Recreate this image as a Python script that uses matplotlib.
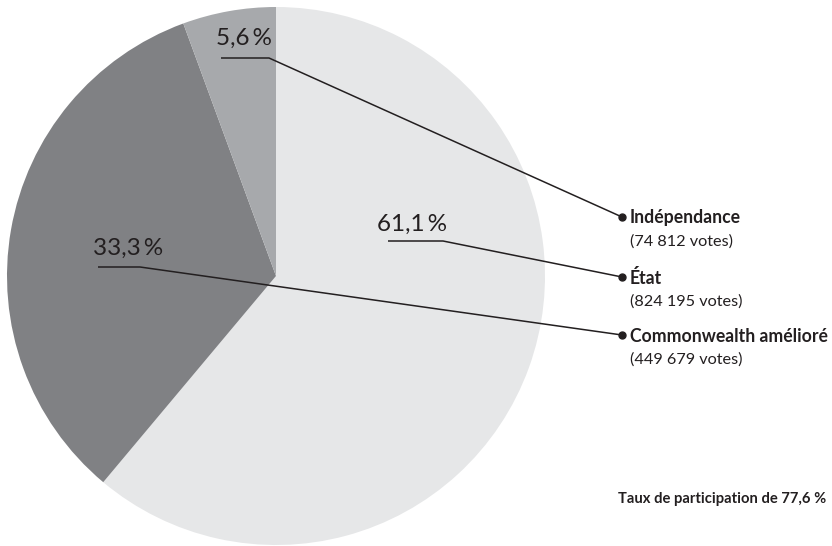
import matplotlib.pyplot as plt

# data
parties = ["État", "Commonwealth amélioré", "Indépendance"]
shares = [61.1, 33.3, 5.6]
votes = [824195, 449679, 74812]
colors = ["#e6e7e8", "#808184", "#a7a9ac"]
turnout = 77.6

W, H = 832, 546
plt.rcParams['font.family'] = ['Lato', 'DejaVu Sans']

fig = plt.figure(figsize=(W / 100, H / 100), dpi=100)
ax = fig.add_axes([0, 0, 1, 1])


def Y(y):
    # pixel row (from top) -> data y
    return H - y


ax.pie(shares, colors=colors, startangle=90, counterclock=False,
       center=(276, Y(276)), radius=269, frame=True,
       wedgeprops=dict(linewidth=0))
ax.set_xlim(0, W)
ax.set_ylim(0, H)
ax.set_aspect('equal')
ax.axis('off')


def fmt_pct(v):
    return f"{v:.1f}".replace(".", ",") + "\u2009%"


def fmt_votes(v):
    return f"({v:,} votes)".replace(",", " ")


# label layout: (text x, text y, underline x0, x1, underline y, dot y)
layout = {
    "État": (412, 224, 388, 443, 241, 277),
    "Commonwealth amélioré": (128, 248, 98, 140, 267, 335),
    "Indépendance": (244, 38, 221, 269, 58, 217),
}

dot_x = 622
for name, share, vote in zip(parties, shares, votes):
    tx, ty, x0, x1, uy, dy = layout[name]
    ax.text(tx, Y(ty), fmt_pct(share), ha='center', va='center',
            fontsize=17.5, color='#231f20')
    ax.plot([x0, x1, dot_x], [Y(uy), Y(uy), Y(dy)], color='#231f20', lw=1.1,
            solid_capstyle='butt')
    ax.plot(dot_x, Y(dy), 'o', color='#231f20', ms=5)
    ax.text(dot_x + 8, Y(dy + 1), name, ha='left', va='center',
            fontsize=12.7, fontweight='bold', color='#231f20')
    ax.text(dot_x + 8, Y(dy + 25), fmt_votes(vote), ha='left', va='center',
            fontsize=11.7, color='#231f20')

ax.text(826, Y(499), "Taux de participation de " + fmt_pct(turnout).replace("\u2009", " "),
        ha='right', va='center', fontsize=10.6, fontweight='bold', color='#231f20')

fig.savefig("out.png", dpi=100)
